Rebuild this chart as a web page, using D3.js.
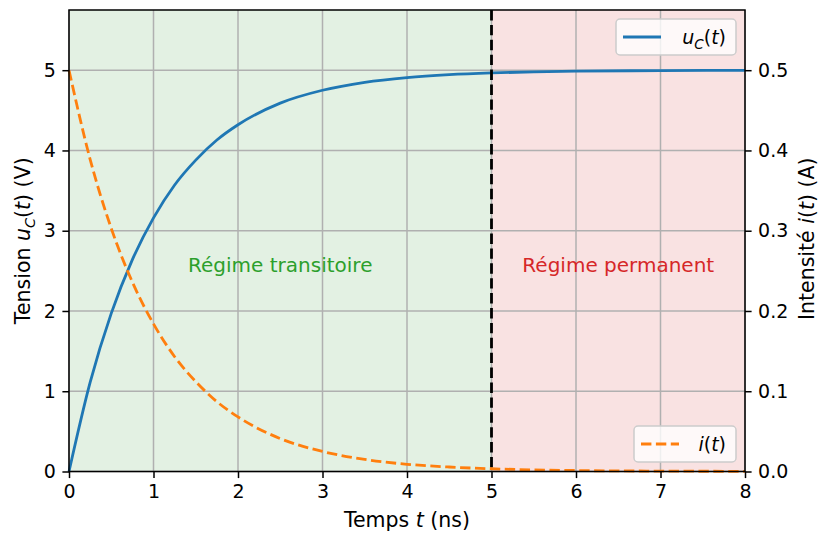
<!DOCTYPE html>
<html><head><meta charset="utf-8">
<script src="https://cdn.jsdelivr.net/npm/d3@7"></script>
<style>body{margin:0;background:#fff}text{font-family:"DejaVu Sans",sans-serif}</style>
</head><body><svg id="c" width="818" height="533"></svg>
<script>
const times = [0,0.25,0.5,0.75,1,1.25,1.5,1.75,2,2.5,3,3.5,4,4.5,5,5.5,6,7,8];
const ucValues = [0,1.11,1.97,2.64,3.16,3.57,3.88,4.13,4.32,4.59,4.75,4.849,4.908,4.944,4.966,4.980,4.988,4.995,4.998];
const iValues = [0.5,0.389,0.303,0.236,0.184,0.143,0.112,0.087,0.068,0.041,0.025,0.015,0.009,0.0056,0.0034,0.002,0.0012,0.0005,0.0002];
const xTicks = [0,1,2,3,4,5,6,7,8];
const yLeftTicks = [0,1,2,3,4,5];
const yRightTicks = [0,0.1,0.2,0.3,0.4,0.5];
const regions = [{from:0,to:5,label:"Régime transitoire",fill:"#e3f1e3",color:"#2ca02c"},
                 {from:5,to:8,label:"Régime permanent",fill:"#f9e2e2",color:"#d62728"}];
const boundary = 5;

const svg = d3.select("#c");
const L=69, R=745, T=10, B=471.5;
const x = d3.scaleLinear().domain([0,8]).range([L,R]);
const yL = d3.scaleLinear().domain([0,5.75]).range([B,T]);
const yR = d3.scaleLinear().domain([0,0.575]).range([B,T]);
const fs = 19, fl = 20.5;

regions.forEach(r=>{
  svg.append("rect").attr("x",x(r.from)).attr("y",T).attr("width",x(r.to)-x(r.from)).attr("height",B-T).attr("fill",r.fill);
});
const g = svg.append("g").attr("stroke","#b0b0b0").attr("stroke-width",1.5);
xTicks.forEach(t=>g.append("line").attr("x1",x(t)).attr("x2",x(t)).attr("y1",T).attr("y2",B));
yLeftTicks.forEach(t=>g.append("line").attr("x1",L).attr("x2",R).attr("y1",yL(t)).attr("y2",yL(t)));

regions.forEach(r=>{
  svg.append("text").attr("x",(x(r.from)+x(r.to))/2).attr("y",yL(2.5)-6).attr("dy","0.35em")
    .attr("text-anchor","middle").attr("fill",r.color).attr("font-size",20).text(r.label);
});

const lineU = d3.line().x((d,i)=>x(times[i])).y(d=>yL(d)).curve(d3.curveMonotoneX);
svg.append("path").attr("d",lineU(ucValues)).attr("fill","none").attr("stroke","#1f77b4").attr("stroke-width",2.8);

svg.append("line").attr("x1",x(boundary)).attr("x2",x(boundary)).attr("y1",T).attr("y2",B)
  .attr("stroke","#000").attr("stroke-width",2.8).attr("stroke-dasharray","10.4,4.5");

const lineI = d3.line().x((d,i)=>x(times[i])).y(d=>yR(d)).curve(d3.curveMonotoneX);
svg.append("path").attr("d",lineI(iValues)).attr("fill","none").attr("stroke","#ff7f0e").attr("stroke-width",2.8).attr("stroke-dasharray","10.4,4.5");

const ax = svg.append("g").attr("transform",`translate(0,${B})`).call(d3.axisBottom(x).tickValues(xTicks).tickFormat(d3.format("d")).tickSizeOuter(0).tickSize(6.6).tickPadding(6.5));
const ayl = svg.append("g").attr("transform",`translate(${L},0)`).call(d3.axisLeft(yL).tickValues(yLeftTicks).tickFormat(d3.format("d")).tickSizeOuter(0).tickSize(6.6).tickPadding(6.5));
const ayr = svg.append("g").attr("transform",`translate(${R},0)`).call(d3.axisRight(yR).tickValues(yRightTicks).tickFormat(d3.format(".1f")).tickSizeOuter(0).tickSize(6.6).tickPadding(6.5));
[ax,ayl,ayr].forEach(a=>{
  a.select(".domain").remove();
  a.selectAll("line").attr("stroke","#000").attr("stroke-width",1.5);
  a.selectAll("text").attr("font-size",fs).attr("font-family","DejaVu Sans").attr("fill","#000");
});
svg.append("rect").attr("x",L).attr("y",T).attr("width",R-L).attr("height",B-T).attr("fill","none").attr("stroke","#000").attr("stroke-width",1.5);

const xl = svg.append("text").attr("x",(L+R)/2).attr("y",527).attr("text-anchor","middle").attr("font-size",fl);
xl.append("tspan").text("Temps ");
xl.append("tspan").attr("font-style","italic").text("t");
xl.append("tspan").text(" (ns)");

const yl = svg.append("text").attr("transform",`translate(30,${(T+B)/2}) rotate(-90)`).attr("text-anchor","middle").attr("font-size",fl);
yl.append("tspan").text("Tension ");
yl.append("tspan").attr("font-style","italic").text("u");
yl.append("tspan").attr("font-style","italic").attr("font-size",14.5).attr("dy",5).text("C");
yl.append("tspan").attr("dy",-5).text("(");
yl.append("tspan").attr("font-style","italic").text("t");
yl.append("tspan").text(") (V)");

const yr = svg.append("text").attr("transform",`translate(814,${(T+B)/2 - 2}) rotate(-90)`).attr("text-anchor","middle").attr("font-size",fl);
yr.append("tspan").text("Intensité ");
yr.append("tspan").attr("font-style","italic").text("i");
yr.append("tspan").text("(");
yr.append("tspan").attr("font-style","italic").text("t");
yr.append("tspan").text(") (A)");

function legend(x0,y0,w,h,color,dash,build){
  svg.append("rect").attr("x",x0).attr("y",y0).attr("width",w).attr("height",h).attr("rx",4)
    .attr("fill","#fff").attr("fill-opacity",0.8).attr("stroke","#cccccc").attr("stroke-width",1.5);
  svg.append("line").attr("x1",x0+7).attr("x2",x0+45).attr("y1",y0+h/2).attr("y2",y0+h/2)
    .attr("stroke",color).attr("stroke-width",2.8).attr("stroke-dasharray",dash);
  const t = svg.append("text").attr("x",x0+w-10).attr("y",y0+h/2).attr("dy","0.35em").attr("text-anchor","end").attr("font-size",fs);
  build(t);
}
legend(616,19,120,36,"#1f77b4",null,t=>{
  t.append("tspan").attr("font-style","italic").text("u");
  t.append("tspan").attr("font-style","italic").attr("font-size",13.5).attr("dy",5).text("C");
  t.append("tspan").attr("dy",-5).text("(");
  t.append("tspan").attr("font-style","italic").text("t");
  t.append("tspan").text(")");
});
legend(634,426,102,36,"#ff7f0e","10.4,4.5",t=>{
  t.append("tspan").attr("font-style","italic").text("i");
  t.append("tspan").text("(");
  t.append("tspan").attr("font-style","italic").text("t");
  t.append("tspan").text(")");
});
</script></body></html>
